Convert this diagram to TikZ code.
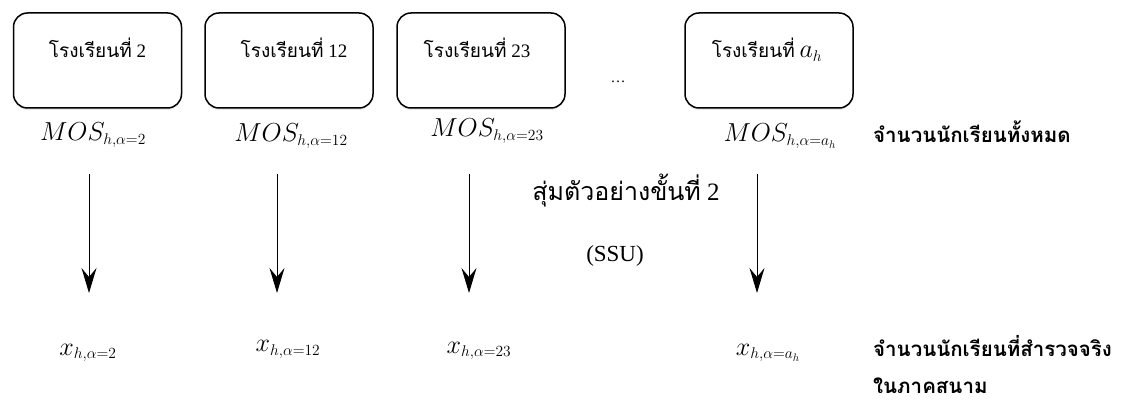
\RequirePackage{fix-cm}
\documentclass[tikz,border=0pt]{standalone}
\usepackage{fontspec}
\setmainfont{Liberation Serif}
\newfontfamily\thai[Script=Thai]{Loma}
\DeclareMathSizes{26}{26}{15.5}{11}
\usetikzlibrary{arrows.meta,shadows}
\begin{document}
\begin{tikzpicture}[x=1pt,y=-1pt,
  schoolbox/.style={draw, line width=1.5pt, rounded corners=14pt,
    minimum width=168pt, minimum height=95pt, inner sep=0pt,
    drop shadow={opacity=0.18, shadow xshift=0pt, shadow yshift=-2pt}, fill=white},
  boxtext/.style={anchor=base, inner sep=0pt, font=\fontsize{19}{22}\selectfont},
  mathlbl/.style={anchor=base, inner sep=0pt, font=\fontsize{26}{31}\selectfont},
  boldlbl/.style={anchor=base west, inner sep=0pt, font=\fontsize{20.5}{24}\selectfont\thai\bfseries},
  arr/.style={line width=1pt, -{Stealth[length=25pt,width=15pt,inset=9pt]}}
]
\useasboundingbox (0,0) rectangle (1127,403);

% boxes
\node[schoolbox] (b1) at (97.5,60.5) {};
\node[schoolbox] (b2) at (289,60.5) {};
\node[schoolbox] (b3) at (481,60.5) {};
\node[schoolbox] (b4) at (769,60.5) {};

\node[boxtext] (t1) at (97.5,58) {{\thai โรงเรียนที่} 2};
\node[boxtext] (t2) at (294,58) {{\thai โรงเรียนที่} 12};
\node[boxtext] (t3) at (477,58) {{\thai โรงเรียนที่} 23};
\node[boxtext] (t4) at (767,58) {{\thai โรงเรียนที่} {\fontsize{26}{31}\selectfont$a_h$}};

\node[inner sep=0pt, font=\fontsize{15}{18}\selectfont] (dots) at (618,82) {\ldots};

% MOS labels
\node[mathlbl] (m1) at (93,141) {$MOS_{h,\alpha=2}$};
\node[mathlbl] (m2) at (291,142) {$MOS_{h,\alpha=12}$};
\node[mathlbl] (m3) at (487,137) {$MOS_{h,\alpha=23}$};
\node[mathlbl] (m4) at (780,142) {$MOS_{h,\alpha=a_h}$};
\node[boldlbl] (total) at (873,143) {จำนวนนักเรียนทั้งหมด};

% middle texts
\node[anchor=base, inner sep=0pt, font=\fontsize{25}{29}\selectfont] (stage) at (626,201) {{\thai สุ่มตัวอย่างขั้นที่} 2};
\node[anchor=base, inner sep=0pt, font=\fontsize{23}{26}\selectfont] (ssu) at (615,262) {(SSU)};

% arrows
\coordinate (s1) at (89,174);  \coordinate (e1) at (89,293);
\coordinate (s2) at (277,174); \coordinate (e2) at (277,293);
\coordinate (s3) at (469,174); \coordinate (e3) at (469,293);
\coordinate (s4) at (757,174); \coordinate (e4) at (757,293);
\draw[arr] (s1) -- (e1);
\draw[arr] (s2) -- (e2);
\draw[arr] (s3) -- (e3);
\draw[arr] (s4) -- (e4);

% x labels
\node[mathlbl] (x1) at (88,355) {$x_{h,\alpha=2}$};
\node[mathlbl] (x2) at (288,352) {$x_{h,\alpha=12}$};
\node[mathlbl] (x3) at (479,353) {$x_{h,\alpha=23}$};
\node[mathlbl] (x4) at (768,355) {$x_{h,\alpha=a_h}$};

\node[boldlbl] (surv1) at (873,356) {จำนวนนักเรียนที่สำรวจจริง};
\node[boldlbl] (surv2) at (873,393) {ในภาคสนาม};
\end{tikzpicture}
\end{document}
